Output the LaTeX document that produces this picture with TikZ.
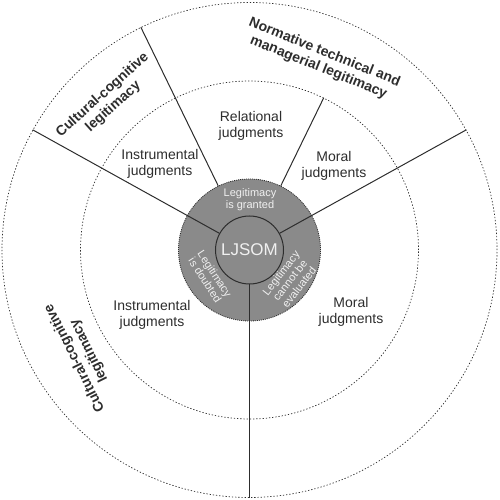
\documentclass[tikz,border=0pt]{standalone}
\usepackage{fontspec}
\setmainfont{Liberation Sans}
\definecolor{ringgray}{RGB}{138,138,138}
\definecolor{inkgray}{RGB}{45,45,45}
\begin{document}
\begin{tikzpicture}[x=1pt,y=1pt,
  ring/.style={circle, draw=inkgray, dash pattern=on 1.3pt off 1.9pt, line width=0.7pt, inner sep=0pt},
  spoke/.style={draw=inkgray, line width=1pt},
  lab/.style={font=\fontsize{14}{16}\selectfont, align=center, text=inkgray},
  blab/.style={font=\bfseries\fontsize{14}{16}\selectfont, align=center, text=inkgray},
  wlab/.style={font=\fontsize{11}{11.5}\selectfont, align=center, text=white!94!black, inner sep=0pt},
]
\useasboundingbox (-249.5,-250) rectangle (250.5,250);
\coordinate (O) at (0,0);
\node[ring, minimum size=495pt] (outer) at (O) {};
\node[ring, minimum size=338pt] (mid) at (O) {};
\node[circle, fill=ringgray, draw=inkgray, dash pattern=on 1pt off 1pt, line width=0.8pt,
      inner sep=0pt, minimum size=142pt] (gray) at (O) {};
\node[circle, fill=ringgray, draw=inkgray, line width=1pt, minimum size=68pt, inner sep=0pt,
      font=\fontsize{17}{18}\selectfont, text=white!94!black] (ljsom) at (O) {LJSOM};
% spokes
\draw[spoke] (ljsom.151) -- (outer.151);
\draw[spoke] (ljsom.29) -- (outer.29);
\draw[spoke] (ljsom.270) -- (outer.270);
\draw[spoke] (gray.116) -- (outer.116);
\draw[spoke] (gray.64) -- (mid.64);
% gray ring labels
\node[wlab] (granted) at (0.5,50.5) {Legitimacy\\is granted};
\node[wlab, rotate=-57] (doubted) at (-39.5,-27) {Legitimacy\\is doubted};
\node[wlab, rotate=52] (cannot) at (40.5,-30) {Legitimacy\\cannot be\\evaluated};
% middle ring labels
\node[lab] (rel) at (1.5,124) {Relational\\judgments};
\node[lab] (instrU) at (-89.5,86) {Instrumental\\judgments};
\node[lab] (moralU) at (84.5,84) {Moral\\judgments};
\node[lab] (instrL) at (-97.5,-65) {Instrumental\\judgments};
\node[lab] (moralL) at (101.5,-62) {Moral\\judgments};
% outer ring labels
\node[blab, rotate=42] (ccU) at (-141.5,149) {Cultural-cognitive\\legitimacy};
\node[blab, rotate=-22] (norm) at (72,190) {Normative technical and\\managerial legitimacy};
\node[blab, rotate=116.5] (ccL) at (-167.5,-104.5) {Cultural-cognitive\\legitimacy};
\end{tikzpicture}
\end{document}
